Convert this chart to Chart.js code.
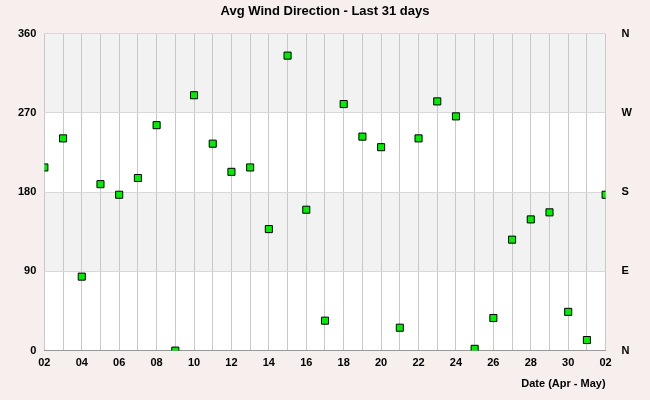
<!DOCTYPE html>
<html>
<head>
<script src="https://cdn.jsdelivr.net/npm/chart.js@4"></script>
<style>
body { margin: 0; background: #f7eeee; }
#wrap { width: 650px; height: 400px; }
</style>
</head>
<body>
<div id="wrap"><canvas id="myChart" width="650" height="400"></canvas></div>
<script>
// days Apr 02 .. May 02
const days = ['02','03','04','05','06','07','08','09','10','11','12','13','14','15','16','17','18','19','20','21','22','23','24','25','26','27','28','29','30','01','02'];
const direction = [208,241,84,189,177,196,256,0,290,235,203,208,138,335,160,34,280,243,231,26,241,283,266,2,37,126,149,157,44,12,177];
const compassTicks = { 0: 'N', 90: 'E', 180: 'S', 270: 'W', 360: 'N' };

// light grey bands behind the plot
const bands = {
  id: 'bands',
  beforeDraw(chart) {
    const { ctx, chartArea: a, scales: { y } } = chart;
    ctx.save();
    ctx.fillStyle = '#ffffff';
    ctx.fillRect(a.left, a.top, a.right - a.left, a.bottom - a.top);
    ctx.fillStyle = '#f2f2f2';
    [[270, 360], [90, 180]].forEach(([lo, hi]) => {
      ctx.fillRect(a.left, y.getPixelForValue(hi), a.right - a.left, y.getPixelForValue(lo) - y.getPixelForValue(hi));
    });
    ctx.restore();
  }
};

Chart.defaults.font.family = 'Arial, "Liberation Sans", sans-serif';
Chart.defaults.color = '#000';

new Chart(document.getElementById('myChart'), {
  type: 'scatter',
  data: {
    labels: days,
    datasets: [{
      data: direction.map((v, i) => ({ x: i, y: v })),
      pointStyle: 'rect',
      pointRadius: 5,
      backgroundColor: '#00ee00',
      borderColor: '#000',
      borderWidth: 1
    }]
  },
  options: {
    responsive: false,
    animation: false,
    layout: { padding: { left: 10, right: 10, top: 0, bottom: 5 } },
    plugins: {
      legend: { display: false },
      tooltip: { enabled: false },
      title: { display: true, text: 'Avg Wind Direction - Last 31 days', font: { size: 13, weight: 'bold' }, padding: { top: 4, bottom: 14 } }
    },
    scales: {
      x: {
        type: 'linear', min: 0, max: 30,
        afterBuildTicks: s => { s.ticks = days.map((d, i) => ({ value: i })); },
        grid: { color: '#c8c8c8', drawTicks: false },
        border: { color: '#999' },
        ticks: {
          autoSkip: false, maxRotation: 0, padding: 6,
          font: { size: 11, weight: 'bold' },
          callback: v => (v % 2 === 0 ? days[v] : '')
        },
        title: { display: true, text: 'Date (Apr - May)', align: 'end', font: { size: 11, weight: 'bold' }, padding: { top: 2 } }
      },
      y: {
        min: 0, max: 360,
        afterBuildTicks: s => { s.ticks = [0, 90, 180, 270, 360].map(v => ({ value: v })); },
        grid: { color: '#d8d8d8', drawTicks: false },
        border: { display: false },
        ticks: { font: { size: 11, weight: 'bold' }, padding: 8 }
      },
      y2: {
        position: 'right', min: 0, max: 360,
        afterBuildTicks: s => { s.ticks = [0, 90, 180, 270, 360].map(v => ({ value: v })); },
        grid: { display: false },
        border: { display: false },
        ticks: { font: { size: 11, weight: 'bold' }, padding: 8, callback: v => compassTicks[v] }
      }
    }
  },
  plugins: [bands]
});
</script>
</body>
</html>
